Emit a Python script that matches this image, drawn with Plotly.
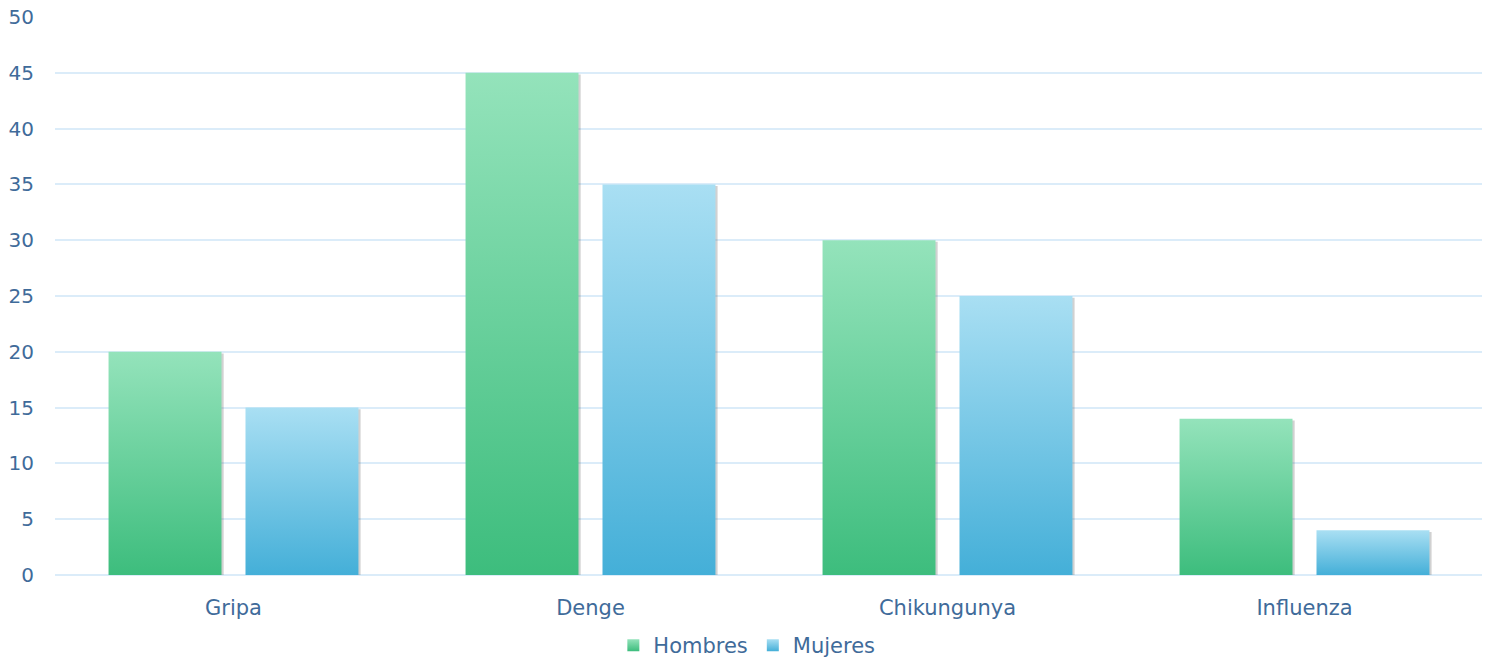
import plotly.graph_objects as go

categories = ["Gripa", "Denge", "Chikungunya", "Influenza"]
hombres = [20, 45, 30, 14]
mujeres = [15, 35, 25, 4]
series_names = ["Hombres", "Mujeres"]
y_ticks = [0, 5, 10, 15, 20, 25, 30, 35, 40, 45, 50]

GREEN_TOP, GREEN_BOT = "#94e3bb", "#3dbd7d"
BLUE_TOP, BLUE_BOT = "#a9dff3", "#44afd8"
TEXT = "#3f6b9a"
GRID = "#dbecf9"
FONT = "DejaVu Sans"

# bar geometry in category units (category width = 1)
INNER = 0.0336
OUTER = 0.350

fig = go.Figure()

def add_bar(xc, v, side, top, bot, group):
    if side == 0:
        x0, x1 = xc - OUTER, xc - INNER
    else:
        x0, x1 = xc + INNER, xc + OUTER
    # soft shadow
    fig.add_trace(go.Scatter(
        x=[x0 + 0.004, x1 + 0.006, x1 + 0.006, x0 + 0.004, x0 + 0.004],
        y=[-0.22, -0.22, v - 0.15, v - 0.15, -0.22],
        fill="toself", mode="none", fillcolor="rgba(90,90,90,0.28)",
        showlegend=False, hoverinfo="skip"))
    fig.add_trace(go.Scatter(
        x=[x0, x1, x1, x0, x0], y=[0, 0, v, v, 0],
        fill="toself", mode="none",
        fillgradient=dict(type="vertical", colorscale=[[0, bot], [1, top]], start=0, stop=v),
        showlegend=False, legendgroup=group, hoverinfo="skip"))

for i, (h, m) in enumerate(zip(hombres, mujeres)):
    add_bar(i, h, 0, GREEN_TOP, GREEN_BOT, series_names[0])
    add_bar(i, m, 1, BLUE_TOP, BLUE_BOT, series_names[1])

# legend entries
for name, top, bot in [(series_names[0], GREEN_TOP, GREEN_BOT), (series_names[1], BLUE_TOP, BLUE_BOT)]:
    fig.add_trace(go.Scatter(
        x=[None], y=[None], mode="markers", name=name, legendgroup=name,
        marker=dict(symbol="square", size=12, color=top,
                    gradient=dict(type="vertical", color=bot), line=dict(width=0))))

# the page body adds an 8px offset, so the figure is sized to fit the window
fig.update_layout(
    width=1482, height=658,
    margin=dict(l=47, r=7, t=9, b=91, autoexpand=False),
    paper_bgcolor="white", plot_bgcolor="white",
    font=dict(family=FONT, size=20, color=TEXT),
    showlegend=True,
    legend=dict(orientation="h", x=0.391, xanchor="left", xref="paper",
                y=0.0, yanchor="bottom", yref="container",
                font=dict(size=21, color=TEXT), itemwidth=30, tracegroupgap=0),
    xaxis=dict(range=[-0.5, 3.5], tickvals=list(range(len(categories))), ticktext=categories,
               tickfont=dict(size=21),
               showgrid=False, zeroline=False, showline=False, ticks="",
               ticklabelstandoff=18, fixedrange=True, automargin=False),
    yaxis=dict(range=[0, 50], tickvals=y_ticks, showgrid=True, gridcolor=GRID, gridwidth=1.5,
               zeroline=True, zerolinecolor=GRID, zerolinewidth=1.5, showline=False,
               ticks="", ticklabelstandoff=20, fixedrange=True, automargin=False,
               ticklabeloverflow="allow"),
)

fig.write_html("out.html")
